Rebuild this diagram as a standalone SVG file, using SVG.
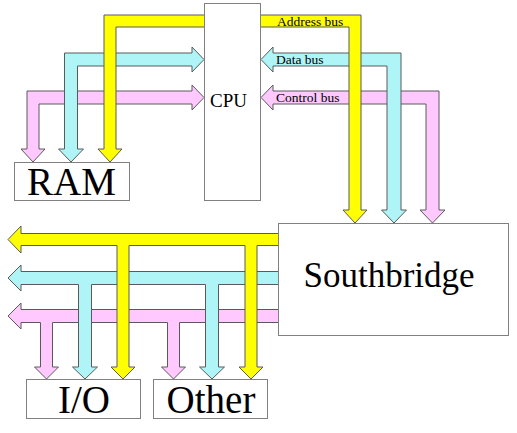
<svg xmlns="http://www.w3.org/2000/svg" width="517" height="433" viewBox="0 0 517 433">
<style>
.bus{stroke:#5a5a5a;stroke-width:1;stroke-linejoin:miter}
.addr{fill:#ffff00}
.data{fill:#aff4f7}
.ctrl{fill:#ffc8ff}
.box{fill:#fff;stroke:#808080;stroke-width:1}
.big{font-family:"Liberation Serif","Times New Roman",serif;fill:#000}
.lbl{font-family:"Liberation Serif","Times New Roman",serif;font-size:13.5px;fill:#000}
</style>
<rect width="517" height="433" fill="#fff"/>
<g id="connectors">
  <!-- bottom buses -->
  <path class="bus ctrl" d="M285,309.5 L21,309.5 L21,303 L8,316 L21,329 L21,322.5 L40.5,322.5 L40.5,367 L34.5,367 L46.5,379 L58.5,367 L52.5,367 L52.5,322.5 L167.5,322.5 L167.5,367 L161.5,367 L173.5,379 L185.5,367 L179.5,367 L179.5,322.5 L285,322.5 Z"/>
  <path class="bus data" d="M285,271.5 L21,271.5 L21,265 L8,278 L21,291 L21,284.5 L78.5,284.5 L78.5,367 L72.5,367 L85,379 L97.5,367 L91.5,367 L91.5,284.5 L205.5,284.5 L205.5,367 L199.5,367 L212,379 L224.5,367 L218.5,367 L218.5,284.5 L285,284.5 Z"/>
  <path class="bus addr" d="M285,233.5 L21,233.5 L21,226 L8,239.5 L21,253 L21,245.5 L117,245.5 L117,367 L111,367 L123,379 L135,367 L129,367 L129,245.5 L245,245.5 L245,367 L239,367 L251,379 L263,367 L257,367 L257,245.5 L285,245.5 Z"/>
  <!-- left buses (RAM) -->
  <path class="bus ctrl" d="M27,91 L192,91 L192,85 L204,97.5 L192,110 L192,104 L39,104 L39,149 L45,149 L33,162 L21,149 L27,149 Z"/>
  <path class="bus data" d="M64.5,53 L192,53 L192,47 L204,59.5 L192,72 L192,66 L77.5,66 L77.5,149 L83.5,149 L71,162 L58.5,149 L64.5,149 Z"/>
  <!-- right buses (Southbridge) -->
  <path class="bus ctrl" d="M261,97.5 L273,85 L273,91 L439,91 L439,210 L445,210 L432.5,223 L420,210 L426,210 L426,104 L273,104 L273,110 Z"/>
  <path class="bus data" d="M261,59.5 L273,47 L273,53 L401,53 L401,210 L406.5,210 L394,223 L381.5,210 L387,210 L387,66 L273,66 L273,72 Z"/>
  <!-- address bus -->
  <path class="bus addr" d="M104,15 L361,15 L361,210 L367,210 L355,223 L343,210 L349,210 L349,27 L116,27 L116,149 L122,149 L110,162 L98,149 L104,149 Z"/>
  <text class="lbl" x="277" y="25.5">Address bus</text>
  <text class="lbl" x="276" y="63.5">Data bus</text>
  <text class="lbl" x="276" y="101.5">Control bus</text>
</g>
<g id="cpu">
  <rect class="box" x="204.5" y="3.5" width="56" height="197"/>
  <text class="big" x="210" y="107" font-size="19">CPU</text>
</g>
<g id="ram">
  <rect class="box" x="14.5" y="162.5" width="115" height="38"/>
  <text class="big" x="71.5" y="195" font-size="39" text-anchor="middle">RAM</text>
</g>
<g id="southbridge">
  <rect class="box" x="278.5" y="223.5" width="230" height="112"/>
  <text class="big" x="389" y="287" font-size="35" text-anchor="middle">Southbridge</text>
</g>
<g id="io">
  <rect class="box" x="26.5" y="379.5" width="114" height="39"/>
  <text class="big" x="84" y="413" font-size="39" text-anchor="middle">I/O</text>
</g>
<g id="other">
  <rect class="box" x="153.5" y="379.5" width="114" height="39"/>
  <text class="big" x="211" y="413" font-size="39" text-anchor="middle">Other</text>
</g>
</svg>
